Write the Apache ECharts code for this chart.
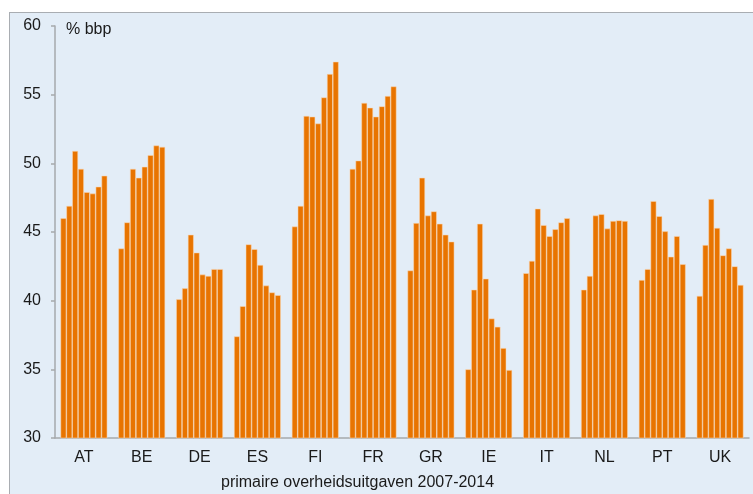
<!DOCTYPE html>
<html>
<head>
<meta charset="utf-8">
<script src="https://cdn.jsdelivr.net/npm/echarts@6/dist/echarts.min.js"></script>
<style>
  html, body { margin: 0; padding: 0; background: #fff; }
  #frame { position: absolute; left: 9px; top: 12px; width: 744px; height: 482px;
           background: #E3EDF7; border-left: 1px solid #A9ADB2; border-top: 1px solid #A9ADB2; }
  #chart { position: absolute; left: 0; top: 0; width: 753px; height: 494px; }
</style>
</head>
<body>
<div id="frame"></div>
<div id="chart"></div>
<script>
  // landen
  var countries = ['AT', 'BE', 'DE', 'ES', 'FI', 'FR', 'GR', 'IE', 'IT', 'NL', 'PT', 'UK'];
  var years = ['2007', '2008', '2009', '2010', '2011', '2012', '2013', '2014'];

  // primaire overheidsuitgaven, % bbp, per land 2007-2014
  var AT = [46.0, 46.9, 50.9, 49.6, 47.9, 47.8, 48.3, 49.1];
  var BE = [43.8, 45.7, 49.6, 48.95, 49.75, 50.6, 51.3, 51.2];
  var DE = [40.1, 40.9, 44.8, 43.5, 41.9, 41.8, 42.3, 42.3];
  var ES = [37.4, 39.6, 44.1, 43.75, 42.6, 41.1, 40.6, 40.4];
  var FI = [45.4, 46.9, 53.45, 53.4, 52.9, 54.8, 56.5, 57.4];
  var FR = [49.6, 50.2, 54.4, 54.05, 53.4, 54.15, 54.9, 55.6];
  var GR = [42.2, 45.65, 48.95, 46.2, 46.5, 45.6, 44.8, 44.3];
  var IE = [35.0, 40.8, 45.6, 41.6, 38.7, 38.1, 36.55, 34.95];
  var IT = [42.0, 42.9, 46.7, 45.5, 44.7, 45.2, 45.7, 46.0];
  var NL = [40.8, 41.8, 46.2, 46.3, 45.25, 45.8, 45.85, 45.8];
  var PT = [41.5, 42.3, 47.25, 46.15, 45.05, 43.2, 44.7, 42.65];
  var UK = [40.35, 44.05, 47.4, 45.3, 43.3, 43.8, 42.5, 41.15];

  var yTicks = [30, 35, 40, 45, 50, 55, 60];

  var table = [AT, BE, DE, ES, FI, FR, GR, IE, IT, NL, PT, UK];

  var font = 'Liberation Sans, Arial, sans-serif';
  var chart = echarts.init(document.getElementById('chart'));

  var series = years.map(function (yr, i) {
    return {
      name: yr,
      type: 'bar',
      barGap: '0%',
      barCategoryGap: '19%',
      itemStyle: {
        color: '#E87400',
        borderColor: 'rgba(250,215,180,0.9)',
        borderWidth: 0.6
      },
      data: table.map(function (row) { return row[i]; })
    };
  });

  var option = {
    animation: false,
    textStyle: { fontFamily: font },
    grid: { left: 55, right: 4, top: 26, bottom: 56 },
    xAxis: {
      type: 'category',
      data: countries,
      axisLine: { lineStyle: { color: '#A6A9AC', width: 1.5 } },
      axisTick: { interval: 1, length: 5, lineStyle: { color: '#A6A9AC', width: 1.5 } },
      axisLabel: { interval: 0, color: '#1a1a1a', fontSize: 16, margin: 12 }
    },
    yAxis: {
      type: 'value',
      min: yTicks[0],
      max: yTicks[yTicks.length - 1],
      interval: 5,
      splitLine: { show: false },
      axisLine: { show: true, lineStyle: { color: '#A6A9AC', width: 1.5 } },
      axisTick: { show: true, length: 4, lineStyle: { color: '#A6A9AC', width: 1.5 } },
      axisLabel: { color: '#1a1a1a', fontSize: 16, margin: 14 }
    },
    graphic: [
      { type: 'text', left: 66, top: 22, style: { text: '% bbp', fontSize: 16, fill: '#1a1a1a', fontFamily: font } },
      { type: 'text', left: 221, top: 475, style: { text: 'primaire overheidsuitgaven 2007-2014', fontSize: 16, fill: '#1a1a1a', fontFamily: font } }
    ],
    series: series
  };

  chart.setOption(option);
</script>
</body>
</html>
